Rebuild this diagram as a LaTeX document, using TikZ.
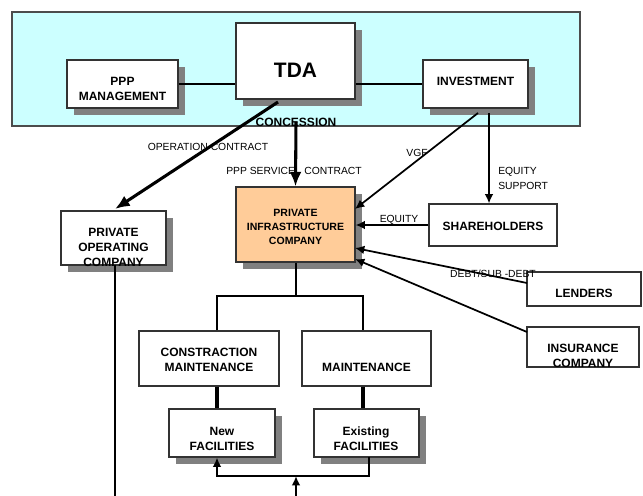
\documentclass[tikz,border=0pt]{standalone}
\usepackage{fontspec}
\setmainfont{Liberation Sans}
\usetikzlibrary{arrows.meta,shadows}

\definecolor{panel}{HTML}{CCFFFF}
\definecolor{pbox}{HTML}{FFCC99}
\definecolor{shade}{HTML}{808080}

\tikzset{
  box/.style={draw=black!80, line width=0.8pt, fill=white, inner sep=0pt},
  sbox/.style={box, drop shadow={fill=shade, opacity=1, shadow xshift=5pt, shadow yshift=-5pt}},
  txt/.style={font=\bfseries\fontsize{9}{11.25}\selectfont, inner sep=0pt, align=center},
  lbl/.style={font=\fontsize{7.75}{11.25}\selectfont, inner sep=0pt, align=left},
  link/.style={line width=1.5pt},
  heavy/.style={line width=2.3pt, -{Latex[length=11pt,width=9pt]}},
  lean/.style={line width=1.3pt, -{Latex[length=7pt,width=6.5pt]}},
}

\begin{document}
\begin{tikzpicture}[x=0.75pt,y=-0.75pt]
\useasboundingbox (0,0) rectangle (643,496);

\filldraw[fill=panel, draw=black!70, line width=0.8pt] (12,12) rectangle (580,126);

% boxes
\node[sbox, minimum width=83.25pt, minimum height=36pt] (ppp) at (122.5,84) {};
\node[sbox, minimum width=89.25pt, minimum height=57pt] (tda) at (295.5,61) {};
\node[sbox, minimum width=78.75pt, minimum height=36pt] (inv) at (475.5,84) {};
\node[sbox, fill=pbox, minimum width=89.25pt, minimum height=56.25pt] (pic) at (295.5,224.5) {};
\node[sbox, minimum width=78.75pt, minimum height=40.5pt] (poc) at (113.5,238) {};
\node[box, minimum width=96pt, minimum height=31.5pt] (sh) at (493,225) {};
\node[box, minimum width=85.5pt, minimum height=25.5pt] (len) at (584,289) {};
\node[box, minimum width=84pt, minimum height=30pt] (ins) at (583,347) {};
\node[box, minimum width=105pt, minimum height=41.25pt] (cm) at (209,358.5) {};
\node[box, minimum width=96.75pt, minimum height=41.25pt] (mt) at (366.5,358.5) {};
\node[sbox, minimum width=79.5pt, minimum height=36pt] (nf) at (222,433) {};
\node[sbox, minimum width=78.75pt, minimum height=36pt] (ex) at (366.5,433) {};

\node[txt] (ppp-t) at (122.5,88.5) {PPP\\MANAGEMENT};
\node[txt, font=\bfseries\fontsize{15.7}{18}\selectfont] (tda-t) at (295.5,70.5) {TDA};
\node[txt] (inv-t) at (475.5,81) {INVESTMENT};
\node[txt, font=\bfseries\fontsize{7.9}{10.5}\selectfont] (pic-t) at (295.5,227) {PRIVATE\\INFRASTRUCTURE\\COMPANY};
\node[txt] (poc-t) at (113.5,247) {PRIVATE\\OPERATING\\COMPANY};
\node[txt] (sh-t) at (493,226) {SHAREHOLDERS};
\node[txt] (len-t) at (584,293) {LENDERS};
\node[txt] (ins-t) at (583,355.5) {INSURANCE\\COMPANY};
\node[txt] (cm-t) at (209,360) {CONSTRACTION\\MAINTENANCE};
\node[txt] (mt-t) at (366.5,367) {MAINTENANCE};
\node[txt] (nf-t) at (222,439) {New\\FACILITIES};
\node[txt] (ex-t) at (366,439) {Existing\\FACILITIES};

% top row
\draw[link] (ppp.east) -- (ppp.east -| tda.west);
\draw[link] (inv.west -| tda.east) -- (inv.west);

\coordinate (op-from) at (278,102);
\coordinate (vgf-from) at (478,113);
\coordinate (eqs-from) at (489,113);
\coordinate (vgf-to) at (355,209);
\coordinate (debt-from) at (527,283);
\coordinate (debt-to) at (355,248);
\coordinate (ins-from) at (527,332);
\coordinate (ins-to) at (355,259);

\node[txt] (conc) at (296,122) {};
\draw[heavy] (conc.center) -- (pic.north);
\draw[heavy] (op-from) -- (115,209);
\draw[lean] (vgf-from) -- (vgf-to);
\draw[lean] (eqs-from) -- (eqs-from |- sh.north);
\draw[lean] (sh.west) -- (sh.west -| pic.east);
\draw[lean] (debt-from) -- (debt-to);
\draw[lean] (ins-from) -- (ins-to);

% operating company line
\draw[link] (115,265) -- (115,496);

% tree below
\coordinate (lft) at (217,296);
\coordinate (rgt) at (363,296);
\coordinate (fb) at (296,476);
\draw[link] (pic.south) -- (pic.south |- lft);
\draw[link] (lft |- cm.north) -- (lft) -- (rgt) -- (rgt |- mt.north);
\draw[line width=2.3pt] (lft |- cm.south) -- (lft |- nf.north);
\draw[line width=2.3pt] (rgt |- mt.south) -- (rgt |- ex.north);
\draw[link, -{Latex[length=7pt,width=6.5pt]}] (369,457) -- (369,476) -- (lft |- fb) -- (lft |- nf.south);
\draw[link, -{Latex[length=7pt,width=6.5pt]}] (296,496) -- (fb);

% labels
\node[txt] (conc-t) at (296,122) {CONCESSION};
\node[lbl] (op) at (208,147) {OPERATION CONTRACT};
\node[lbl] (svc) at (294,171) {PPP SERVICE\hspace{7pt}CONTRACT};
\node[lbl] (vgf) at (417,153) {VGF};
\node[lbl, anchor=west] (eqs) at (498,178.5) {EQUITY\\SUPPORT};
\node[lbl] (eq) at (399,220) {EQUITY};
\node[lbl] (debt) at (493,274) {DEBT/SUB -DEBT};
\end{tikzpicture}
\end{document}
